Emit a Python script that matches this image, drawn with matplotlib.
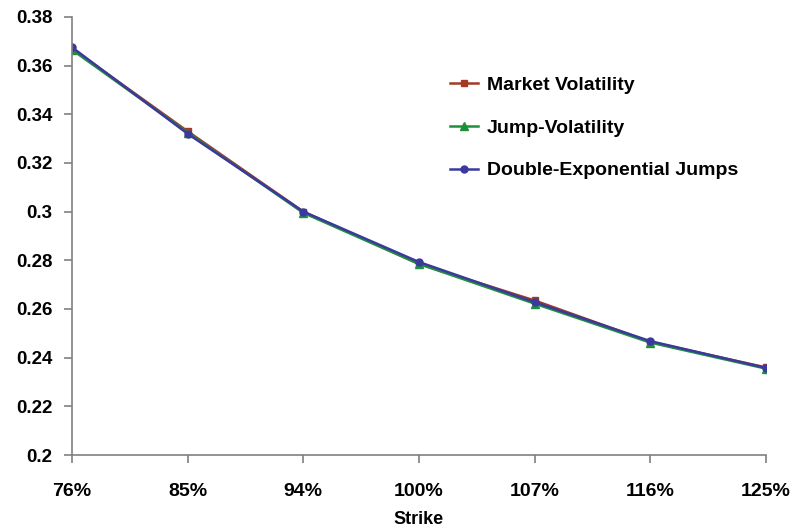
import matplotlib.pyplot as plt

# Implied volatility by strike: market quotes vs two jump models
strikes = ['76%', '85%', '94%', '100%', '107%', '116%', '125%']
market_vol = [0.367, 0.333, 0.300, 0.2785, 0.2635, 0.2465, 0.236]
jump_vol = [0.3665, 0.3325, 0.2995, 0.2785, 0.2622, 0.2462, 0.2355]
dexp_vol = [0.3675, 0.332, 0.300, 0.2793, 0.2628, 0.2468, 0.2358]

plt.rcParams['font.family'] = ['Liberation Sans', 'DejaVu Sans']
plt.rcParams['font.weight'] = 'bold'

fig = plt.figure(figsize=(7.92, 5.30), dpi=100)
ax = fig.add_axes([0.091, 0.1415, 0.876, 0.8265])

x = range(len(strikes))
ax.plot(x, market_vol, color='#a33a25', marker='s', markersize=5, lw=1.8, label='Market Volatility')
ax.plot(x, jump_vol, color='#1f8f3a', marker='^', markersize=6, lw=1.8, label='Jump-Volatility')
ax.plot(x, dexp_vol, color='#3a3a9e', marker='o', markersize=5, lw=1.8, label='Double-Exponential Jumps')

ax.set_xlim(0, len(strikes) - 1)
ax.set_ylim(0.2, 0.38)
ax.set_xticks(list(x))
ax.set_xticklabels(strikes)
ax.set_yticks([0.2, 0.22, 0.24, 0.26, 0.28, 0.3, 0.32, 0.34, 0.36, 0.38])
ax.set_yticklabels(['0.2', '0.22', '0.24', '0.26', '0.28', '0.3', '0.32', '0.34', '0.36', '0.38'])

for side in ['top', 'right']:
    ax.spines[side].set_visible(False)
for side in ['left', 'bottom']:
    ax.spines[side].set_color('#808080')
    ax.spines[side].set_linewidth(1.2)
ax.tick_params(axis='both', colors='#808080', labelcolor='black', length=6, width=1.2)
ax.tick_params(axis='x', labelsize=14, pad=14)
ax.tick_params(axis='y', labelsize=13.5, pad=8)

ax.set_xlabel('Strike', fontsize=13, fontweight='bold', labelpad=8)

ax.legend(loc='upper left', bbox_to_anchor=(0.545, 0.865), frameon=False, fontsize=14,
          handlelength=1.45, labelspacing=1.3, handletextpad=0.45,
          borderpad=0, borderaxespad=0)

fig.savefig('out.png', dpi=100)
